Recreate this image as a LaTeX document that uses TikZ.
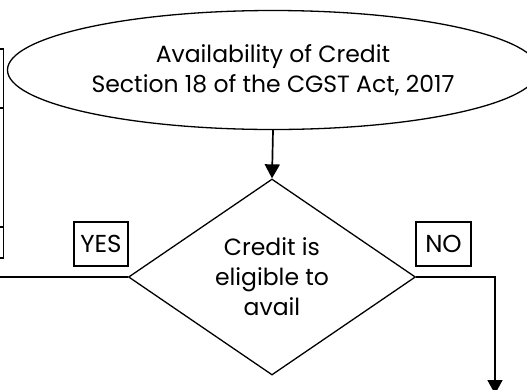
\documentclass[tikz,border=0pt]{standalone}
\usepackage{fontspec}
\setmainfont{Poppins}
\usetikzlibrary{shapes.geometric,arrows.meta}
\tikzset{
  shapeline/.style={draw=black,line width=1.3pt},
  tagbox/.style={draw=black,line width=1.1pt,minimum height=44pt,inner sep=0pt,font=\fontsize{24.5}{26}\selectfont},
  conn/.style={draw=black,line width=1.7pt},
  arr/.style={conn,-{Triangle[width=15pt,length=14pt]}},
  maintext/.style={font=\fontsize{23.5}{30}\selectfont,align=center}
}
\begin{document}
\begin{tikzpicture}[x=1pt,y=-1pt]
\useasboundingbox (0,0) rectangle (527,389);
\clip (0,0) rectangle (527,389);
% cut-off stacked boxes at the left edge
\draw[shapeline] (-60,49) rectangle (3.5,108);
\draw[shapeline] (-60,108) rectangle (3.5,227);
\draw[shapeline] (-60,227) rectangle (3.5,258);
% ellipse
\node[shapeline,ellipse,minimum width=531pt,minimum height=119pt,inner sep=0pt,maintext] (avail) at (273,70)
  {Availability of Credit\\Section 18 of the CGST Act, 2017};
% diamond
\node[shapeline,diamond,minimum width=287pt,minimum height=196pt,inner sep=0pt,maintext] (elig) at (272,277)
  {Credit is\\eligible to\\avail};
% tags
\node[tagbox,minimum width=54pt] (yes) at (101,244) {YES};
\node[tagbox,minimum width=55pt] (no) at (443.5,244) {NO};
% connectors
\coordinate (yesend) at (-2,277);
\coordinate (noend) at (495,394);
\draw[arr] (avail.south) -- (elig.north);
\draw[conn] (elig.west) -- (yesend);
\draw[arr] (elig.east) -| (noend);
\end{tikzpicture}
\end{document}
